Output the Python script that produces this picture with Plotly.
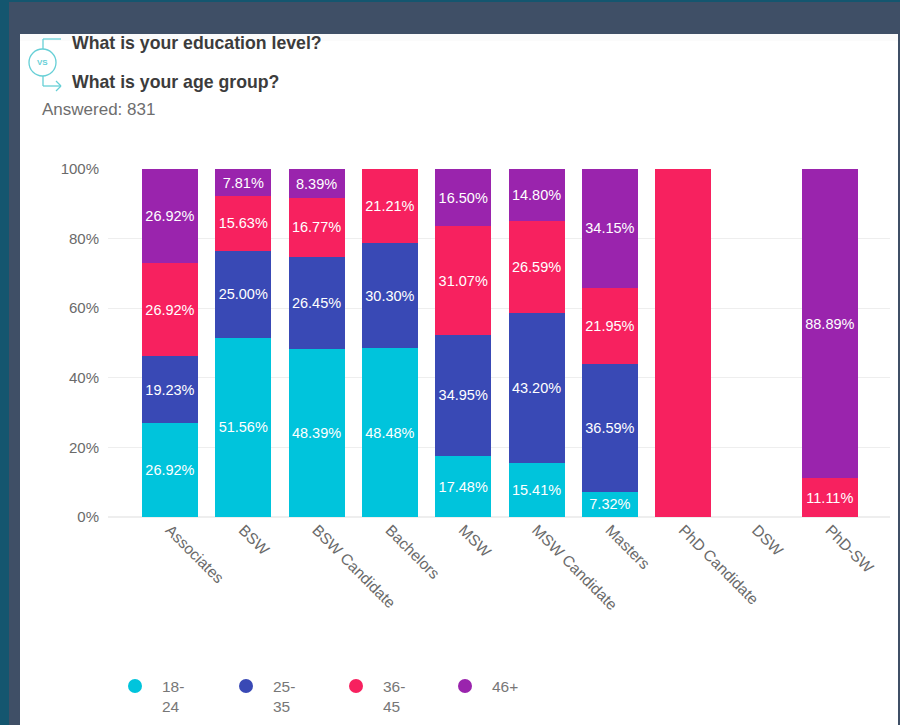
import plotly.graph_objects as go

categories = ["Associates", "BSW", "BSW Candidate", "Bachelors", "MSW", "MSW Candidate",
              "Masters", "PhD Candidate", "DSW", "PhD-SW"]
age_18_24 = [26.92, 51.56, 48.39, 48.48, 17.48, 15.41, 7.32, 0, 0, 0]
age_25_35 = [19.23, 25.00, 26.45, 30.30, 34.95, 43.20, 36.59, 0, 0, 0]
age_36_45 = [26.92, 15.63, 16.77, 21.21, 31.07, 26.59, 21.95, 100, 0, 11.11]
age_46_up = [26.92, 7.81, 8.39, 0, 16.50, 14.80, 34.15, 0, 0, 88.89]
series_names = ["18-<br>24", "25-<br>35", "36-<br>45", "46+"]
series_values = [age_18_24, age_25_35, age_36_45, age_46_up]
series_colors = ["#00c4dc", "#3949b5", "#f7215f", "#9a24ad"]
question_1 = "What is your education level?"
question_2 = "What is your age group?"
answered = "Answered: 831"

W, H = 900, 725
def X(p): return p / W
def Y(p): return 1 - p / H

fig = go.Figure()
for name, vals, col in zip(series_names, series_values, series_colors):
    fig.add_trace(go.Bar(
        x=categories, y=vals, name=name, marker=dict(color=col, line=dict(width=0)), width=0.764,
        text=[f"{v:.2f}%" if 0 < v < 100 else "" for v in vals],
        textposition="inside", insidetextanchor="middle", textangle=0,
        insidetextfont=dict(color="white", size=14.5, family="Liberation Sans"),
        constraintext="none", cliponaxis=False, showlegend=False, hoverinfo="skip"))

def rect(x0, y0, x1, y1, col, layer="below"):
    return dict(type="rect", xref="paper", yref="paper", x0=X(x0), x1=X(x1), y0=Y(y0), y1=Y(y1),
                fillcolor=col, line=dict(width=0), layer=layer)
def line(x0, y0, x1, y1):
    return dict(type="line", xref="paper", yref="paper", x0=X(x0), x1=X(x1), y0=Y(y0), y1=Y(y1),
                line=dict(color="#66cfd6", width=1.3), layer="above")

shapes = [
    rect(0, 0, 900, 725, "#3f4f66"),
    rect(0, 0, 900, 2, "#14566f"),
    rect(0, 0, 9, 725, "#14566f"),
    rect(20, 34, 898, 725, "#ffffff"),
    rect(20, 34, 898, 41, "#fbfbfb"),
    dict(type="circle", xref="paper", yref="paper", x0=X(29), x1=X(56), y0=Y(76), y1=Y(49),
         fillcolor="white", line=dict(color="#66cfd6", width=1.3), layer="above"),
    line(43, 49, 43, 39), line(43, 39, 61, 39),
    line(43, 76, 43, 86), line(43, 86, 61, 86),
    line(56, 81, 61, 86), line(56, 91, 61, 86),
]

def note(x, y, text, size, color, bold=False):
    return dict(xref="paper", yref="paper", x=X(x), y=Y(y), text=f"<b>{text}</b>" if bold else text,
                showarrow=False, xanchor="left", yanchor="middle",
                font=dict(size=size, color=color, family="Liberation Sans"))

annotations = [
    note(70, 43, question_1, 17.7, "#3c3c3c", True),
    note(70, 82, question_2, 17.7, "#3c3c3c", True),
    note(40, 110, answered, 17, "#6e6e6e"),
    dict(xref="paper", yref="paper", x=X(42.5), y=Y(62.5), text="<b>VS</b>", showarrow=False,
         xanchor="center", yanchor="middle",
         font=dict(size=8, color="#66cfd6", family="Liberation Sans")),
]

legend_marker_x = [135, 246, 356, 465]
for mx, name, col in zip(legend_marker_x, series_names, series_colors):
    shapes.append(dict(type="circle", xref="paper", yref="paper", x0=X(mx - 7), x1=X(mx + 7),
                       y0=Y(693), y1=Y(679), fillcolor=col, line=dict(width=0), layer="above"))
    annotations.append(dict(xref="paper", yref="paper", x=X(mx + 25), y=Y(676),
                            text=name, showarrow=False, xanchor="left", yanchor="top", align="left",
                            font=dict(size=15.5, color="#777777", family="Liberation Sans")))

fig.update_layout(
    width=W, height=H, margin=dict(l=0, r=0, t=0, b=0), barmode="stack", showlegend=False,
    paper_bgcolor="#3f4f66", plot_bgcolor="rgba(0,0,0,0)", shapes=shapes, annotations=annotations,
    font=dict(family="Liberation Sans", color="#6a6a6a", size=15),
    xaxis=dict(domain=[X(108), X(890)], range=[-0.845, 9.82], type="category", automargin=False,
               categoryorder="array", categoryarray=categories, tickangle=45, showgrid=False,
               showline=False, zeroline=False, ticks="", tickfont=dict(size=15.5, color="#6a6a6a")),
    yaxis=dict(domain=[Y(517), Y(169)], range=[0, 100.02], tickvals=[0, 20, 40, 60, 80, 100],
               automargin=False,
               ticktext=["0%", "20%", "40%", "60%", "80%", "100%"], gridcolor="#eeeeee",
               gridwidth=1, zeroline=True, zerolinecolor="#eeeeee", showline=False,
               ticks="outside", ticklen=5, tickcolor="rgba(0,0,0,0)",
               tickfont=dict(size=15, color="#6a6a6a")),
)
fig.write_html("out.html", config={"displayModeBar": False},
               post_script="document.body.style.margin='0';document.body.style.overflow='hidden';")
